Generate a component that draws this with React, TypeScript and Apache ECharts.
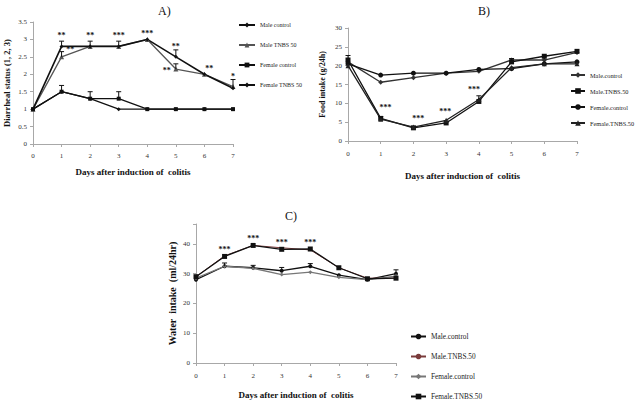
import React, { useEffect, useRef } from "react";
import * as echarts from "echarts";

const days = [0, 1, 2, 3, 4, 5, 6, 7];
const seriesNames = ["Male control", "Male TNBS 50", "Female control", "Female TNBS 50"];
const seriesNamesB = ["Male.control", "Male.TNBS.50", "Female.control", "Female.TNBS.50"];

// Panel A: diarrheal status
const aMaleControl = [1, 1.5, 1.3, 1, 1, 1, 1, 1];
const aMaleTNBS = [1, 2.5, 2.8, 2.8, 3, 2.15, 2, 1.65];
const aFemaleControl = [1, 1.5, 1.3, 1.3, 1, 1, 1, 1];
const aFemaleTNBS = [1, 2.8, 2.8, 2.8, 3, 2.5, 2, 1.6];
const aErrors = [
  [1, 2.8, 2.95], [2, 2.8, 2.95], [3, 2.8, 2.95], [5, 2.5, 2.7], [7, 1.6, 1.85],
  [1, 2.5, 2.65], [5, 2.15, 2.3],
  [1, 1.5, 1.68], [2, 1.3, 1.5], [3, 1.3, 1.5],
];
const aStars = [
  [1, 3.1, "**"], [1.3, 2.7, "**"], [2, 3.1, "**"], [3, 3.1, "***"], [4, 3.17, "***"],
  [5, 2.81, "**"], [4.68, 2.12, "**"], [6.17, 2.17, "**"], [7, 1.95, "*"],
];

// Panel B: food intake
const bMaleControl = [21, 15.6, 16.8, 18, 18.5, 21.5, 21.5, 23.5];
const bMaleTNBS = [21.5, 6, 3.5, 4.8, 10.5, 21, 22.5, 23.8];
const bFemaleControl = [20.5, 17.5, 18, 18, 19, 19.2, 20.5, 21];
const bFemaleTNBS = [20, 5.8, 3.7, 5.5, 11, 19.5, 20.5, 20.5];
const bErrors = [
  [0, 21.5, 22.7], [4, 11, 12], [5, 21.5, 21.9], [1, 6, 6.5],
];
const bStars = [
  [1.15, 9.0, "***"], [2.15, 6.1, "***"], [2.97, 7.7, "***"], [3.85, 13.8, "***"],
];

// Panel C: water intake
const cMaleControl = [28, 32.5, 32, 31, 32.5, 29.5, 28, 30];
const cMaleTNBS = [29, 36, 39.5, 38.7, 38, 32, 28.5, 28.5];
const cFemaleControl = [28.5, 32.5, 31.8, 29.7, 30.5, 28.8, 28, 29.2];
const cFemaleTNBS = [29, 35.8, 39.5, 38.2, 38.3, 32, 28.3, 28.5];
const cErrors = [
  [1, 32.5, 33.6], [2, 32, 32.8], [3, 31, 32.1], [4, 32.5, 33.4], [7, 30, 31.3],
];
const cStars = [
  [1, 38.2, "***"], [2, 41.7, "***"], [3, 40.6, "***"], [4, 40.6, "***"],
];

const SERIF = "'Liberation Serif', 'DejaVu Serif', serif";

function pairs(vals: number[]) {
  return days.map((d, i) => [d, vals[i]]);
}

function errorSeries(errs: number[][], color = "#111") {
  return {
    type: "custom",
    silent: true,
    z: 5,
    data: errs,
    renderItem: (params: any, api: any) => {
      const x = api.value(0);
      const p0 = api.coord([x, api.value(1)]);
      const p1 = api.coord([x, api.value(2)]);
      return {
        type: "group",
        children: [
          { type: "line", shape: { x1: p0[0], y1: p0[1], x2: p1[0], y2: p1[1] }, style: { stroke: color, lineWidth: 1 } },
          { type: "line", shape: { x1: p1[0] - 2.5, y1: p1[1], x2: p1[0] + 2.5, y2: p1[1] }, style: { stroke: color, lineWidth: 1 } },
        ],
      };
    },
  };
}

function starSeries(stars: any[], fontSize: number) {
  return {
    type: "custom",
    silent: true,
    z: 6,
    data: stars.map((s) => [s[0], s[1]]),
    renderItem: (params: any, api: any) => {
      const p = api.coord([api.value(0), api.value(1)]);
      return {
        type: "text",
        x: p[0],
        y: p[1],
        style: {
          text: stars[params.dataIndex][2],
          fill: "#111",
          align: "center",
          verticalAlign: "middle",
          font: `bold ${fontSize}px ${SERIF}`,
        },
      };
    },
  };
}

function lineSeries(name: string, vals: number[], symbol: string, size: number, color: string, width = 1.3) {
  return {
    name,
    type: "line",
    data: pairs(vals),
    symbol,
    symbolSize: size,
    showSymbol: symbol !== "none",
    lineStyle: { color, width },
    itemStyle: { color },
  };
}

function baseAxes(o: any) {
  const axisLine = { show: true, lineStyle: { color: "#a8a8a8", width: 1 } };
  return {
    xAxis: {
      type: "value",
      min: 0,
      max: 7,
      interval: 1,
      axisLine,
      axisTick: { show: true, length: 3, lineStyle: { color: "#a8a8a8" } },
      splitLine: { show: false },
      axisLabel: { fontFamily: SERIF, fontSize: o.tickFont, color: "#333", margin: o.xLabelMargin },
      name: "Days after induction of  colitis",
      nameLocation: "middle",
      nameGap: o.xNameGap,
      nameMoveOverlap: false,
      nameTextStyle: { fontFamily: SERIF, fontWeight: "bold", fontSize: o.nameFont, color: "#111" },
    },
    yAxis: {
      type: "value",
      min: 0,
      max: o.yMax,
      interval: o.yInterval,
      axisLine,
      axisTick: { show: true, length: 3, lineStyle: { color: "#a8a8a8" } },
      splitLine: { show: false },
      axisLabel: {
        fontFamily: SERIF,
        fontSize: o.tickFont,
        color: "#333",
        margin: 6,
        formatter: (v: number) => (Math.abs(v / o.yInterval - Math.round(v / o.yInterval)) < 1e-6 ? String(v) : ""),
      },
      name: o.yName,
      nameLocation: "middle",
      nameGap: o.yNameGap,
      nameMoveOverlap: false,
      nameTextStyle: { fontFamily: SERIF, fontWeight: "bold", fontSize: o.yNameFont, color: "#111" },
    },
  };
}

function optionA() {
  return {
    animation: false,
    title: { text: "A)", left: 153, top: 0, textStyle: { fontFamily: SERIF, fontSize: 12, fontWeight: "normal", color: "#111" } },
    grid: { left: 33, right: 77, top: 22, bottom: 56, outerBoundsMode: "none", containLabel: false },
    ...baseAxes({ tickFont: 7, xLabelMargin: 8, xNameGap: 23, nameFont: 9, yMax: 3.5, yInterval: 0.5, yName: "Diarrheal status (1, 2, 3)", yNameGap: 22, yNameFont: 8.5 }),
    legend: {
      orient: "vertical",
      left: 238,
      top: 22,
      padding: 0,
      itemWidth: 16,
      itemHeight: 6,
      itemGap: 14,
      textStyle: { fontFamily: SERIF, fontSize: 6, color: "#222" },
      data: seriesNames,
    },
    series: [
      lineSeries(seriesNames[0], aMaleControl, "diamond", 4, "#111"),
      lineSeries(seriesNames[1], aMaleTNBS, "triangle", 5, "#555"),
      lineSeries(seriesNames[2], aFemaleControl, "rect", 4, "#111"),
      lineSeries(seriesNames[3], aFemaleTNBS, "diamond", 4, "#111", 1.6),
      errorSeries(aErrors),
      starSeries(aStars, 8),
    ],
  };
}

function optionB() {
  return {
    animation: false,
    title: { text: "B)", left: 163, top: 0, textStyle: { fontFamily: SERIF, fontSize: 12, fontWeight: "normal", color: "#111" } },
    grid: { left: 38, right: 63, top: 28, bottom: 59, outerBoundsMode: "none", containLabel: false },
    ...baseAxes({ tickFont: 7, xLabelMargin: 9, xNameGap: 30, nameFont: 9, yMax: 30, yInterval: 5, yName: "Food intake (g/24h)", yNameGap: 22, yNameFont: 8 }),
    legend: {
      orient: "vertical",
      left: 260,
      top: 72,
      padding: 0,
      itemWidth: 14,
      itemHeight: 7,
      itemGap: 10,
      textStyle: { fontFamily: SERIF, fontSize: 6.3, color: "#222" },
      data: seriesNamesB,
    },
    series: [
      lineSeries(seriesNamesB[0], bMaleControl, "diamond", 5, "#333"),
      lineSeries(seriesNamesB[1], bMaleTNBS, "rect", 5, "#111"),
      lineSeries(seriesNamesB[2], bFemaleControl, "circle", 5, "#111"),
      lineSeries(seriesNamesB[3], bFemaleTNBS, "triangle", 5, "#222"),
      errorSeries(bErrors),
      starSeries(bStars, 8),
    ],
  };
}

function optionC() {
  return {
    animation: false,
    title: { text: "C)", left: 130, top: 5, textStyle: { fontFamily: SERIF, fontSize: 12, fontWeight: "normal", color: "#111" } },
    grid: { left: 46, right: 94, top: 24, bottom: 41, outerBoundsMode: "none", containLabel: false },
    ...baseAxes({ tickFont: 7, xLabelMargin: 9, xNameGap: 27, nameFont: 9, yMax: 46.7, yInterval: 10, yName: "Water  intake  (ml/24hr)", yNameGap: 19, yNameFont: 10 }),
    legend: {
      orient: "vertical",
      left: 260,
      top: 133,
      padding: 0,
      itemWidth: 15,
      itemHeight: 7,
      itemGap: 13,
      textStyle: { fontFamily: SERIF, fontSize: 7.3, color: "#222" },
      data: seriesNamesB,
    },
    series: [
      lineSeries(seriesNamesB[0], cMaleControl, "circle", 4, "#111"),
      lineSeries(seriesNamesB[1], cMaleTNBS, "none", 0, "#7a3b3b", 1),
      lineSeries(seriesNamesB[2], cFemaleControl, "diamond", 4, "#777"),
      lineSeries(seriesNamesB[3], cFemaleTNBS, "rect", 5, "#111"),
      errorSeries(cErrors),
      starSeries(cStars, 8),
    ],
  };
}

function Chart(props: { left: number; top: number; width: number; height: number; option: () => any }) {
  const ref = useRef<HTMLDivElement>(null);
  useEffect(() => {
    if (!ref.current) return;
    const chart = echarts.init(ref.current, null, { renderer: "svg" });
    chart.setOption(props.option());
    return () => chart.dispose();
  }, []);
  return (
    <div
      ref={ref}
      style={{ position: "absolute", left: props.left, top: props.top, width: props.width, height: props.height }}
    />
  );
}

export default function App() {
  return (
    <div style={{ position: "fixed", left: 0, top: 0, width: 640, height: 404, background: "#fff", overflow: "hidden" }}>
      <Chart left={0} top={0} width={310} height={200} option={optionA} />
      <Chart left={310} top={0} width={330} height={200} option={optionB} />
      <Chart left={150} top={200} width={340} height={204} option={optionC} />
    </div>
  );
}
